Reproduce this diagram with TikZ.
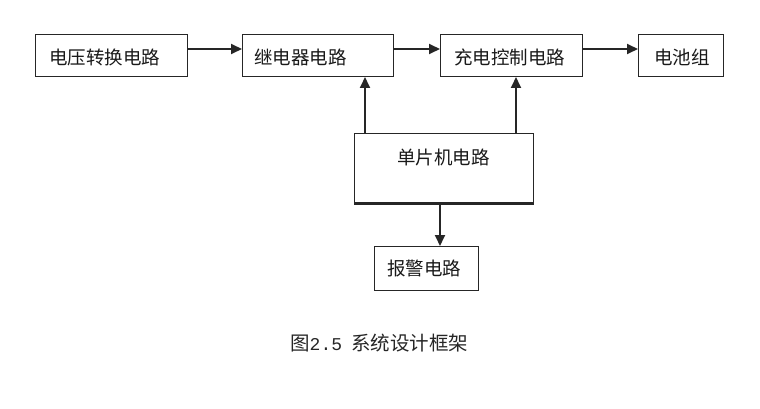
\documentclass[tikz,border=0pt]{standalone}
\usepackage{fontspec}
\newfontfamily\cjk{Noto Sans CJK SC}
\newfontfamily\monof{Liberation Mono}
\usetikzlibrary{arrows.meta}
\begin{document}
\begin{tikzpicture}[x=1pt,y=-1pt,
  blk/.style={draw=black!85,line width=1pt,fill=white},
  lbl/.style={font=\cjk\fontsize{18.5}{20}\selectfont,inner sep=0pt,text=black!90},
  conn/.style={draw=black!85,line width=1.8pt,-{Triangle[length=11pt,width=10pt]}}]
\useasboundingbox (0,0) rectangle (760,409);
% boxes
\draw[blk] (35,35) rectangle (187,77);
\draw[blk] (242,35) rectangle (393,77);
\draw[blk] (440,35) rectangle (582,77);
\draw[blk] (638,35) rectangle (723,77);
\draw[blk] (354.5,134) rectangle (533.5,203);
\draw[draw=black!85,line width=2.5pt] (354,203.5) -- (534,203.5);
\draw[blk] (374,246) rectangle (478,290);
% named anchors
\coordinate (b1) at (187,49);
\coordinate (b2l) at (242,49);
\coordinate (b2r) at (393,49);
\coordinate (b3l) at (440,49);
\coordinate (b3r) at (582,49);
\coordinate (b4l) at (638,49);
\coordinate (m1) at (365,134);
\coordinate (b2b) at (365,77);
\coordinate (m2) at (516,134);
\coordinate (b3b) at (516,77);
\coordinate (m3) at (440,204.5);
\coordinate (a1) at (440,246);
% labels
\node[lbl,anchor=west] (t1) at (49,57) {电压转换电路};
\node[lbl,anchor=west] (t2) at (254,57) {继电器电路};
\node[lbl,anchor=west] (t3) at (454,57) {充电控制电路};
\node[lbl,anchor=west] (t4) at (654,57) {电池组};
\node[lbl,anchor=west] (t5) at (397,157) {单片机电路};
\node[lbl,anchor=west] (t6) at (387,268) {报警电路};
% connectors
\draw[conn] (b1) -- (b2l);
\draw[conn] (b2r) -- (b3l);
\draw[conn] (b3r) -- (b4l);
\draw[conn] (m1) -- (b2b);
\draw[conn] (m2) -- (b3b);
\draw[conn] (m3) -- (a1);
% caption
\node[font=\cjk\fontsize{19.5}{21}\selectfont,inner sep=0pt,anchor=west,text=black!85] (cap) at (290,343) {图{\monof\fontsize{18}{20}\selectfont 2.5}\hspace{9pt}系统设计框架};
\end{tikzpicture}
\end{document}
